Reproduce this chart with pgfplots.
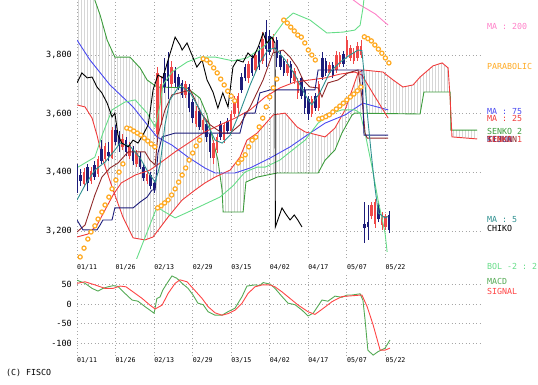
\documentclass[border=0pt]{standalone}
\usepackage{pgfplots}
\pgfplotsset{compat=1.18}
\usepackage{pgfplotstable}
\usepgfplotslibrary{fillbetween}
\usetikzlibrary{patterns}
\usepackage{fontspec}
\setmonofont{DejaVu Sans Mono}
\newcommand{\lf}{\ttfamily\fontsize{8.3pt}{9pt}\selectfont}
\newcommand{\tf}{\ttfamily\fontsize{8.5pt}{9pt}\selectfont}
\newcommand{\df}{\ttfamily\fontsize{6.6pt}{7pt}\selectfont}
\definecolor{cRed}{HTML}{F04848}
\definecolor{cNavy}{HTML}{1C1C7A}
\definecolor{cSenkoB}{HTML}{3C9C3C}
\definecolor{cBol}{HTML}{66DD88}
\definecolor{cMAlong}{HTML}{4A4AF0}
\definecolor{cMAmid}{HTML}{F03A3A}
\definecolor{cMAshort}{HTML}{2E9090}
\definecolor{cPink}{HTML}{FF80C8}
\definecolor{cOrange}{HTML}{FFAA22}
\definecolor{cMaroon}{HTML}{902A2A}
\definecolor{cMACD}{HTML}{55AA55}
\definecolor{cSig}{HTML}{FF4444}

\pgfplotstableread{
x bl bh l h
2 3360 3400 3350 3415
4 3370 3405 3360 3420
6 3395 3445 3385 3455
8 3445 3490 3435 3500
10 3450 3545 3445 3555
13 3485 3515 3475 3530
15 3455 3495 3445 3505
17 3430 3465 3420 3475
20 3370 3395 3360 3405
23 3530 3740 3520 3760
24 3640 3700 3560 3730
27 3700 3760 3690 3780
31 3665 3700 3655 3710
34 3565 3610 3555 3625
36 3545 3580 3535 3590
39 3450 3500 3430 3510
40 3475 3520 3465 3530
42 3510 3560 3500 3570
44 3540 3600 3530 3610
45 3600 3650 3590 3660
46 3620 3660 3600 3670
49 3720 3770 3705 3780
51 3750 3800 3740 3810
53 3780 3855 3770 3880
56 3820 3860 3810 3870
60 3740 3770 3730 3785
62 3710 3745 3700 3755
63 3670 3710 3650 3720
67 3600 3650 3590 3660
69 3620 3700 3610 3710
72 3740 3765 3735 3775
74 3750 3800 3740 3815
75 3770 3800 3760 3810
77 3800 3850 3790 3865
78 3790 3825 3780 3835
79 3780 3810 3770 3825
80 3790 3830 3780 3845
81 3800 3830 3790 3850
84 3250 3290 3240 3300
85 3225 3300 3210 3310
87 3220 3250 3205 3265
88 3215 3250 3205 3260
}\redc

\pgfplotstableread{
x bl bh l h
0 3374 3418 3330 3430
1 3370 3390 3355 3410
3 3365 3420 3335 3430
5 3385 3425 3375 3440
7 3440 3480 3430 3510
9 3455 3470 3440 3505
11 3505 3545 3495 3560
12 3490 3525 3470 3540
14 3470 3510 3455 3520
16 3440 3480 3425 3490
18 3420 3455 3410 3470
19 3380 3420 3370 3430
21 3355 3390 3345 3400
22 3340 3365 3330 3375
25 3690 3740 3670 3790
26 3710 3780 3650 3810
28 3705 3750 3690 3760
29 3690 3725 3680 3735
30 3665 3705 3655 3715
32 3620 3690 3605 3700
33 3585 3640 3570 3650
35 3555 3610 3545 3620
37 3520 3565 3505 3575
38 3470 3530 3450 3540
41 3520 3565 3510 3575
43 3540 3575 3530 3585
47 3680 3725 3670 3740
48 3720 3760 3710 3770
50 3740 3790 3730 3800
52 3760 3815 3750 3830
54 3820 3880 3760 3920
55 3810 3865 3800 3885
57 3790 3850 3760 3860
58 3760 3800 3750 3815
59 3740 3780 3730 3790
61 3720 3770 3705 3780
64 3660 3720 3650 3730
65 3620 3680 3600 3690
66 3600 3650 3580 3660
68 3620 3660 3610 3670
70 3725 3790 3715 3810
71 3740 3780 3730 3790
73 3730 3765 3720 3775
76 3770 3805 3760 3815
82 3210 3225 3160 3300
83 3215 3230 3170 3290
86 3240 3290 3230 3300
89 3205 3255 3195 3270
}\navyc

\pgfplotstableread{
x y
0 3630
2.3 3623
4.3 3585
5.7 3527
7.4 3442
10.3 3340
13.1 3248
16.0 3177
19.4 3170
21.7 3180
26.0 3248
30.0 3306
33.7 3340
36.5 3364
39.4 3384
43.7 3408
46.5 3452
48.5 3510
51.4 3534
56.0 3596
59.4 3602
62.8 3555
65.1 3538
70.8 3521
73.6 3551
76.5 3613
78.5 3681
80.2 3739
81.6 3749
87.3 3742
90.2 3715
93.0 3691
95.9 3698
97.9 3725
101.6 3763
104.2 3773
105.9 3756
106.5 3647
107.0 3521
114.2 3514
}\senkoA

\pgfplotstableread{
x y
0 4107
3.1 4039
5.1 3987
6.6 3936
8.6 3851
10.8 3793
15.1 3793
18.0 3756
20.0 3715
22.8 3691
31.4 3688
35.1 3653
37.1 3596
38.8 3510
40.2 3442
41.4 3340
41.7 3265
47.4 3265
48.2 3367
51.4 3384
57.1 3398
68.8 3398
70.8 3442
73.6 3476
75.6 3534
78.5 3596
79.3 3602
97.9 3599
99.0 3674
106.5 3674
106.7 3544
114.2 3544
}\senkoB

\pgfplotstableread{
x y
0 3851
3.7 3783
9.4 3698
16.0 3623
22.8 3521
27.1 3493
31.7 3452
36.5 3415
39.4 3398
45.1 3398
49.4 3415
55.1 3449
60.8 3487
66.5 3534
70.8 3568
76.5 3596
81.6 3636
88.8 3613
}\malong

\pgfplotstableread{
x y
0 3180
3.1 3190
5.7 3220
8.0 3272
10.3 3323
12.6 3364
16.6 3391
20.8 3408
23.7 3432
28.0 3470
32.3 3504
36.5 3538
40.8 3562
45.1 3585
49.4 3613
53.7 3657
57.9 3688
62.2 3708
66.5 3715
70.8 3722
75.1 3735
79.3 3742
81.3 3732
84.2 3674
88.8 3585
}\mamid

\pgfplotstableread{
x y
75.0 4015
78.0 3995
80.8 3970
83.0 3955
85.1 3940
87.0 3920
88.8 3902
}\maslow

\pgfplotstableread{
x y
0.3 3418
5.1 3452
7.4 3534
10.0 3613
13.7 3640
16.6 3647
20.0 3602
22.3 3555
23.7 3630
24.5 3698
27.1 3742
31.4 3776
35.1 3793
39.4 3793
44.5 3780
48.5 3790
53.1 3827
55.9 3861
59.4 3919
61.7 3943
66.5 3919
71.3 3875
75.9 3878
79.3 3885
80.8 3902
81.6 3960
82.5 4056
84.2 4192
88.8 4200
}\bolup

\pgfplotstableread{
x y
13.7 2990
17.1 3108
20.8 3221
22.8 3282
25.1 3265
28.0 3245
31.7 3265
36.5 3292
40.8 3316
44.5 3354
47.9 3401
51.4 3418
53.7 3418
57.9 3442
62.2 3483
65.1 3510
68.8 3568
72.8 3602
75.6 3613
79.3 3613
80.8 3602
82.2 3534
84.2 3418
85.9 3306
87.9 3194
88.5 3129
}\bollo

\pgfplotstableread{
x y
0 3306
2.3 3357
5.1 3408
8.0 3435
10.8 3476
12.3 3500
15.1 3490
18.0 3449
20.3 3401
22.3 3367
23.7 3425
25.1 3562
26.5 3647
29.4 3698
32.3 3671
35.1 3613
38.0 3544
39.4 3510
41.4 3500
43.7 3527
46.5 3606
49.4 3698
52.2 3776
54.5 3817
56.5 3824
59.4 3783
62.2 3732
65.1 3664
67.0 3630
69.4 3674
72.2 3742
75.1 3776
77.9 3800
80.2 3817
81.3 3815
82.2 3700
83.0 3580
84.0 3460
85.0 3350
86.0 3262
87.9 3245
88.8 3250
}\mashort

\pgfplotstableread{
x y
0 3705
1.4 3739
2.9 3722
4.3 3725
5.7 3691
7.1 3671
8.6 3636
10.0 3589
10.8 3602
11.7 3527
12.8 3500
14.6 3487
16.0 3510
17.4 3500
18.8 3527
20.3 3562
20.8 3602
21.7 3681
23.1 3732
24.5 3722
26.0 3783
28.0 3861
29.4 3834
30.0 3817
31.4 3841
32.8 3800
34.2 3759
35.7 3783
37.1 3715
38.8 3674
40.2 3619
41.6 3671
43.1 3623
44.5 3759
45.7 3783
47.4 3776
48.8 3807
50.2 3790
51.7 3827
53.1 3875
54.2 3841
55.6 3861
56.5 3841
56.6 3214
58.5 3279
59.6 3258
60.8 3238
62.0 3255
63.0 3238
64.2 3214
}\chiko

\pgfplotstableread{
x y
0 3197
2.3 3221
3.7 3272
5.1 3323
7.1 3384
9.4 3415
11.7 3432
14.6 3470
19.4 3470
20.8 3442
22.3 3425
23.1 3527
25.1 3613
27.1 3664
32.3 3681
33.7 3647
35.1 3606
38.0 3562
41.4 3534
43.7 3534
46.5 3562
49.4 3623
53.1 3715
55.9 3807
58.8 3817
60.8 3793
62.8 3759
64.5 3715
66.5 3691
68.8 3688
69.9 3657
71.6 3705
74.5 3715
77.3 3739
80.2 3749
81.3 3657
82.2 3534
82.8 3517
88.8 3517
}\tenkan

\pgfplotstableread{
x y
0 3238
1.7 3204
5.7 3204
6.6 3221
7.4 3238
10.0 3238
10.8 3279
16.0 3279
18.0 3299
20.0 3316
21.4 3340
22.3 3340
23.1 3466
24.3 3521
26.0 3527
28.0 3534
46.5 3534
47.9 3602
50.8 3602
52.2 3671
55.1 3681
67.9 3681
68.8 3749
81.3 3749
81.9 3527
88.8 3527
}\kijun

\pgfplotstableread{
x y
0.9 3112
2.0 3142
3.1 3173
4.0 3197
5.1 3218
6.0 3241
7.1 3265
8.0 3289
9.1 3316
10.0 3344
11.1 3374
12.0 3401
13.1 3429
14.2 3551
15.2 3548
16.2 3541
17.2 3534
18.2 3527
19.2 3517
20.2 3507
21.2 3497
22.2 3487
23.0 3279
24.0 3286
25.0 3296
26.0 3306
27.0 3323
28.0 3344
29.0 3367
30.0 3391
31.0 3415
32.0 3442
33.0 3466
34.0 3490
35.0 3510
36.0 3787
37.0 3783
38.0 3773
39.0 3756
40.0 3739
41.0 3718
42.0 3698
43.0 3677
44.0 3660
45.0 3644
46.0 3432
47.0 3445
48.0 3460
49.0 3487
50.0 3510
51.0 3520
52.0 3555
53.0 3585
54.0 3623
55.0 3657
56.0 3688
57.0 3718
59.0 3919
60.0 3909
61.0 3895
62.0 3882
63.0 3868
64.0 3861
65.0 3841
66.0 3817
67.0 3800
68.0 3783
69.0 3582
70.0 3585
71.0 3590
72.0 3596
73.0 3606
74.0 3616
75.0 3626
76.0 3636
77.0 3647
78.0 3657
79.0 3667
80.0 3678
81.0 3691
82.0 3862
83.0 3856
84.0 3848
85.0 3834
86.0 3820
87.0 3806
88.0 3790
89.0 3773
}\sar

\pgfplotstableread{
x y
0 62
2.3 54
4.3 41
6.0 34
7.4 41
8.8 45
10.3 48
11.7 46
13.7 28
15.7 11
17.4 8
19.4 -6
20.8 -15
22.0 -23
22.8 15
23.7 19
24.5 37
25.7 54
27.1 73
28.5 67
30.0 54
31.7 41
33.1 24
34.5 3
36.0 -1
37.4 -19
39.4 -28
41.4 -28
43.1 -19
45.1 -10
47.1 20
48.5 47
50.8 50
52.2 48
53.1 56
55.1 52
56.5 41
58.5 20
60.2 3
62.2 -1
64.2 -15
65.9 -30
67.4 -23
69.9 11
71.6 8
73.6 21
75.6 18
77.1 24
78.5 24
80.8 27
81.6 10
82.2 -40
83.0 -118
84.5 -131
85.9 -122
87.9 -113
89.3 -92
}\macd

\pgfplotstableread{
x y
0 54
2.3 58
5.1 50
8.0 41
10.3 41
12.3 47
14.0 45
16.0 32
18.6 15
20.8 -2
22.3 -12
24.3 -2
26.0 28
28.0 54
29.4 63
31.4 58
33.1 41
35.7 15
37.4 -6
39.4 -22
41.4 -28
43.1 -24
45.1 -15
47.1 3
48.8 28
50.8 45
52.8 50
55.1 50
56.5 45
58.5 32
60.8 15
63.1 -2
65.9 -19
67.9 -26
69.9 -13
72.8 7
75.6 20
78.5 22
81.3 24
82.8 -6
84.5 -53
86.5 -118
87.9 -118
89.3 -113
}\signal

\pgfplotsset{
  chartbase/.style={
    scale only axis, width=403pt, xmin=0, xmax=115,
    axis line style={draw=none}, tick style={draw=none},
    xtick={0,11,22,33,44,55,66,77,88},
    xticklabels={01/11,01/26,02/13,02/29,03/15,04/02,04/17,05/07,05/22},
    xticklabel style={font=\df, anchor=north west, inner sep=0pt},
    yticklabel style={font=\tf, anchor=east, inner sep=0pt, xshift=-5pt},
    grid=major,
    major grid style={draw=gray!70, line width=0.8pt, dash pattern=on 0.9pt off 2.6pt},
  },
  cl/.style={no markers, line width=0.9pt},
  wick/.style={forget plot, draw=none, no markers,
    error bars/.cd, y dir=plus, y explicit, error mark=none,
    error bar style={draw=#1, line width=0.7pt}},
  body/.style={forget plot, draw=none, no markers,
    error bars/.cd, y dir=plus, y explicit, error mark=none,
    error bar style={draw=#1, line width=2.5pt}},
}

\begin{document}
\begin{tikzpicture}
\path (0,0) rectangle (538pt,384pt);

\begin{axis}[chartbase, at={(77pt,126pt)}, anchor=south west, height=258pt,
  ymin=3108.4, ymax=3987.4, ytick={3200,3400,3600,3800},
  yticklabels={{3,200},{3,400},{3,600},{3,800}},
  xticklabel style={yshift=-6.5pt}]
\addplot[name path=sa, draw=none, no markers] table[x=x,y=y] {\senkoA};
\addplot[name path=sb, draw=none, no markers] table[x=x,y=y] {\senkoB};
\addplot[pattern=vertical lines, pattern color=gray!32, draw=none] fill between[of=sa and sb];
\addplot[cl, cSenkoB] table[x=x,y=y] {\senkoB};
\addplot[cl, cMAmid] table[x=x,y=y] {\senkoA};
% candles
\addplot[wick=cNavy] table[x=x, y=l, y error plus expr=\thisrow{h}-\thisrow{l}] {\navyc};
\addplot[body=cNavy] table[x=x, y=bl, y error plus expr=\thisrow{bh}-\thisrow{bl}] {\navyc};
\addplot[wick=cRed] table[x=x, y=l, y error plus expr=\thisrow{h}-\thisrow{l}] {\redc};
\addplot[body=cRed] table[x=x, y=bl, y error plus expr=\thisrow{bh}-\thisrow{bl}] {\redc};
% lines
\addplot[cl, cMAlong] table[x=x,y=y] {\malong};
\addplot[cl, cMAmid] table[x=x,y=y] {\mamid};
\addplot[cl, cPink] table[x=x,y=y] {\maslow};
\addplot[cl, cBol] table[x=x,y=y] {\bolup};
\addplot[cl, cBol] table[x=x,y=y] {\bollo};
\addplot[cl, cMaroon] table[x=x,y=y] {\tenkan};
\addplot[cl, cNavy] table[x=x,y=y] {\kijun};
\addplot[cl, cMAshort] table[x=x,y=y] {\mashort};
\addplot[cl, black] table[x=x,y=y] {\chiko};
\addplot[only marks, mark=*, mark size=2.1pt, mark options={draw=cOrange, fill=white, line width=1.2pt}] table[x=x,y=y] {\sar};
\end{axis}

\begin{axis}[chartbase, at={(77pt,28pt)}, anchor=south west, height=84pt,
  ymin=-133.2, ymax=83.2, ytick={-100,-50,0,50},
  yticklabels={-100,-50,0,50},
  xticklabel style={yshift=-1.5pt}]
\addplot[cl, cMACD] table[x=x,y=y] {\macd};
\addplot[cl, cSig] table[x=x,y=y] {\signal};
\end{axis}

\begin{scope}[every node/.style={anchor=west, inner sep=0pt, font=\lf}]
\node[text=cPink] at (487pt,358pt) {MA : 200};
\node[text=cOrange] at (487pt,318pt) {PARABOLIC};
\node[text=cMAlong] at (487pt,272.5pt) {MA : 75};
\node[text=cMAmid] at (487pt,265.5pt) {MA : 25};
\node[text=cSenkoB] at (487pt,253pt) {SENKO 2};
\node[text=cMaroon] at (487pt,244.5pt) {TENKAN};
\node[text=cNavy] at (487pt,244.5pt) {KIJUN};
\node[text=cMAmid] at (487pt,244.5pt) {SENKO 1};
\node[text=cMAshort] at (487pt,164pt) {MA : 5};
\node[text=black] at (487pt,156pt) {CHIKO};
\node[text=cBol] at (487pt,117.5pt) {BOL -2 : 2};
\node[text=cMACD] at (487pt,102.5pt) {MACD};
\node[text=cSig] at (487pt,92.5pt) {SIGNAL};
\node[text=black] at (6pt,11pt) {(C) FISCO};
\end{scope}
\pgfresetboundingbox
\path[use as bounding box] (0,0) rectangle (538pt,384pt);
\end{tikzpicture}
\end{document}
